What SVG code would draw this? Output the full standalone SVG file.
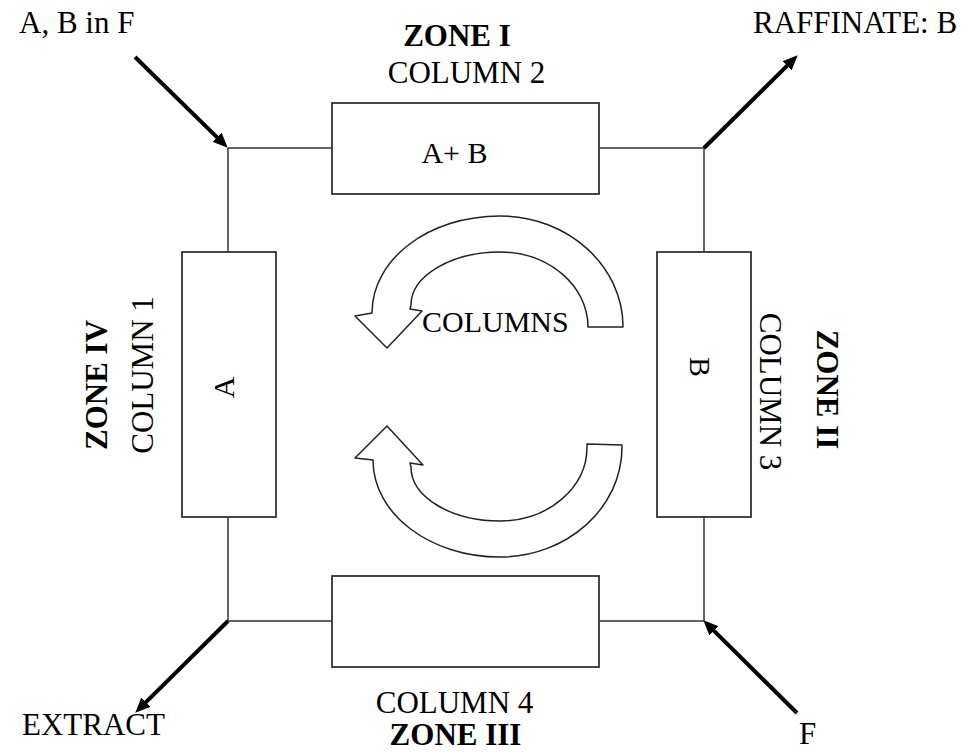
<svg xmlns="http://www.w3.org/2000/svg" width="967" height="752" viewBox="0 0 967 752">
<defs>
<style>
text{font-family:"Liberation Serif","Times New Roman",serif;font-size:31px;fill:#000}
.b{font-weight:bold}
.m{text-anchor:middle}
.box{fill:#fff;stroke:#333;stroke-width:1.8}
.pipe{stroke:#333;stroke-width:1.5;fill:none}
.flow{stroke:#000;stroke-width:4;fill:none;marker-end:url(#ah)}
.rot{fill:#fff;stroke:#222;stroke-width:1.5;stroke-linejoin:round}
</style>
<marker id="ah" markerUnits="userSpaceOnUse" markerWidth="15" markerHeight="13" refX="7" refY="6.5" orient="auto">
<path d="M0,0 L15,6.5 L0,13 z" fill="#000"/>
</marker>
</defs>
<rect width="967" height="752" fill="#fff"/>
<g id="connectors">
<line class="pipe" x1="228" y1="148" x2="332" y2="148"/>
<line class="pipe" x1="599" y1="148" x2="704" y2="148"/>
<line class="pipe" x1="228" y1="148" x2="228" y2="252"/>
<line class="pipe" x1="228" y1="517" x2="228" y2="621"/>
<line class="pipe" x1="704" y1="148" x2="704" y2="252"/>
<line class="pipe" x1="704" y1="517" x2="704" y2="621"/>
<line class="pipe" x1="228" y1="621" x2="332" y2="621"/>
<line class="pipe" x1="599" y1="621" x2="704" y2="621"/>
<line class="flow" x1="135" y1="57" x2="222" y2="142.1"/>
<line class="flow" x1="704" y1="148" x2="792" y2="60.9"/>
<line class="flow" x1="228" y1="621" x2="140.95" y2="707.05"/>
<line class="flow" x1="797" y1="713" x2="709" y2="625.9"/>
</g>
<g id="column2">
<rect class="box" x="332" y="103" width="267" height="91"/>
<text class="m" x="454.5" y="163" style="font-size:30px">A+ B</text>
<text class="m" x="466.5" y="83">COLUMN 2</text>
<text class="m b" x="457" y="46">ZONE I</text>
</g>
<g id="column1">
<rect class="box" x="182" y="252" width="94" height="265"/>
<text class="m" transform="translate(234,387.5) rotate(-90)" style="font-size:30px">A</text>
<text class="m" transform="translate(153,375) rotate(-90)">COLUMN 1</text>
<text class="m b" transform="translate(107,385) rotate(-90)">ZONE IV</text>
</g>
<g id="column3">
<rect class="box" x="657" y="252" width="94" height="265"/>
<text class="m" transform="translate(690,367) rotate(90)" style="font-size:30px">B</text>
<text class="m" transform="translate(760,391.5) rotate(90)">COLUMN 3</text>
<text class="m b" transform="translate(817,389.5) rotate(90)">ZONE II</text>
</g>
<g id="column4">
<rect class="box" x="332" y="576" width="267" height="91"/>
<text class="m" x="454.5" y="713">COLUMN 4</text>
<text class="m b" x="455.5" y="745">ZONE III</text>
</g>
<g id="rotation">
<path class="rot" d="M623,327 C623,266 568,216 500,216 C429,216 372,259 372,313 L355,316 L387,348 L422,311 L410,309 L411,305 C411,276 451,252 500,252 C549,252 588,286 588,327 Z"/>
<path class="rot" d="M387,426 L355,458 L373,460 C373,514 430,557 500,557 C567,557 622,508 622,447 L622,445 L587,444 L587,447 C587,488 548,521 500,521 C451,521 411,497 411,467 L410,463 L423,465 Z"/>
<text x="422" y="332" style="font-size:30px">COLUMNS</text>
</g>
<g id="labels">
<text x="19" y="33">A, B in F</text>
<text x="753" y="33">RAFFINATE: B</text>
<text x="22" y="735">EXTRACT</text>
<text x="799" y="744">F</text>
</g>
</svg>
